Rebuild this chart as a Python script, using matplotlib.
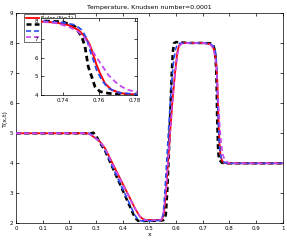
import matplotlib
matplotlib.use("Agg")
import matplotlib.pyplot as plt

# Data
x_red = [0, 0.265, 0.275, 0.29, 0.315, 0.334, 0.3525, 0.3775, 0.4025, 0.4275, 0.446, 0.465, 0.478, 0.49, 0.54, 0.548,
         0.555, 0.5625, 0.571, 0.58, 0.586, 0.596, 0.605, 0.612, 0.622, 0.64, 0.70, 0.722, 0.728, 0.736, 0.743,
         0.7486, 0.7523, 0.755, 0.7569, 0.7587, 0.7606, 0.7633, 0.767, 0.7725, 0.78, 0.79, 1.0]
y_red = [5, 5, 4.98, 4.89, 4.72, 4.5, 4.17, 3.72, 3.28, 2.83, 2.5, 2.22, 2.13, 2.11, 2.11, 2.13,
         2.35, 3.05, 4.17, 5.28, 6.0, 6.99, 7.7, 7.94, 8.0, 8.01, 8.01, 7.99, 7.96, 7.91, 7.78,
         7.51, 7.15, 6.70, 6.16, 5.62, 5.17, 4.63, 4.27, 4.09, 4.02, 4.0, 4.0]

x_black = [0, 0.28, 0.29, 0.30, 0.315, 0.334, 0.3525, 0.3775, 0.4025, 0.4275, 0.445, 0.458, 0.50, 0.552,
           0.557, 0.562, 0.568, 0.574, 0.579, 0.584, 0.588, 0.592, 0.60, 0.65, 0.70, 0.728, 0.74, 0.7468,
           0.7505, 0.7523, 0.7532, 0.7541, 0.756, 0.7578, 0.7606, 0.7652, 0.772, 0.78, 1.0]
y_black = [5, 5, 5.02, 4.92, 4.68, 4.42, 4.05, 3.55, 3.05, 2.55, 2.2, 2.08, 2.08, 2.1,
           2.15, 2.3, 3.2, 4.5, 5.8, 7.0, 7.7, 8.0, 8.04, 8.01, 8.01, 8.0, 7.95, 7.69,
           7.15, 6.61, 6.07, 5.53, 4.99, 4.45, 4.18, 4.09, 4.02, 4.0, 4.0]

x_blue = [0, 0.275, 0.29, 0.315, 0.334, 0.3525, 0.3775, 0.4025, 0.4275, 0.445, 0.458, 0.47, 0.50, 0.545,
          0.552, 0.558, 0.566, 0.574, 0.582, 0.59, 0.598, 0.606, 0.615, 0.65, 0.70, 0.728, 0.74, 0.7468,
          0.7505, 0.7532, 0.755, 0.7569, 0.7587, 0.7615, 0.7652, 0.7707, 0.78, 0.79, 1.0]
y_blue = [5, 5, 4.92, 4.7, 4.45, 4.08, 3.58, 3.1, 2.62, 2.28, 2.12, 2.08, 2.08, 2.1,
          2.3, 3.0, 4.2, 5.4, 6.5, 7.3, 7.8, 7.97, 8.0, 8.01, 8.01, 7.99, 7.9, 7.78,
          7.51, 7.06, 6.43, 5.89, 5.35, 4.81, 4.36, 4.13, 4.04, 4.0, 4.0]

x_mag = [0, 0.268, 0.29, 0.315, 0.334, 0.3525, 0.3775, 0.4025, 0.4275, 0.446, 0.465, 0.484, 0.50, 0.545,
         0.552, 0.5625, 0.571, 0.58, 0.586, 0.596, 0.606, 0.614, 0.624, 0.70, 0.728, 0.736, 0.7431,
         0.7486, 0.7523, 0.755, 0.7578, 0.7615, 0.7652, 0.7689, 0.7725, 0.7762, 0.78, 0.79, 0.80, 1.0]
y_mag = [5, 5, 4.9, 4.72, 4.49, 4.15, 3.7, 3.26, 2.82, 2.5, 2.22, 2.11, 2.1, 2.12,
         2.3, 3.05, 4.17, 5.28, 6.0, 6.99, 7.65, 7.93, 8.0, 8.0, 7.96, 7.88, 7.69,
         7.42, 7.06, 6.61, 6.16, 5.62, 5.08, 4.72, 4.45, 4.27, 4.18, 4.06, 4.0, 4.0]

labels = ["Euler (N=1)", "N=2", "N=3", "N=2"]
x_ticks = [0, 0.1, 0.2, 0.3, 0.4, 0.5, 0.6, 0.7, 0.8, 0.9, 1]
x_ticklabels = ["0", "0.1", "0.2", "0.3", "0.4", "0.5", "0.6", "0.7", "0.8", "0.9", "1"]
y_ticks = [2, 3, 4, 5, 6, 7, 8, 9]
inset_xticks = [0.74, 0.76, 0.78]
inset_yticks = [4, 5, 6, 7, 8]

RED, BLACK, BLUE, MAG = "#ff0000", "#000000", "#2a4cf5", "#c64cf0"

fig = plt.figure(figsize=(2.87, 2.41), dpi=100)
ax = fig.add_axes([0.0557, 0.0734, 0.9293, 0.8716])


def draw(a, lw_scale=1.0):
    a.plot(x_red, y_red, color=RED, lw=1.3 * lw_scale, label=labels[0], zorder=4)
    a.plot(x_black, y_black, color=BLACK, lw=1.8 * lw_scale, ls=(0, (2.0, 1.3)), label=labels[1], zorder=3)
    a.plot(x_blue, y_blue, color=BLUE, lw=1.2 * lw_scale, ls=(0, (3.0, 1.8)), label=labels[2], zorder=5)
    a.plot(x_mag, y_mag, color=MAG, lw=1.2 * lw_scale, ls=(0, (3.0, 1.8)), label=labels[3], zorder=6)


draw(ax)
ax.set_xlim(0, 1)
ax.set_ylim(2, 9)
ax.set_xticks(x_ticks)
ax.set_xticklabels(x_ticklabels)
ax.set_yticks(y_ticks)
ax.tick_params(direction="in", length=2.5, width=0.5, labelsize=4, top=True, right=True, pad=2)
for s in ax.spines.values():
    s.set_linewidth(0.5)
ax.set_title("Temperature, Knudsen number=0.0001", fontsize=4.5, pad=3)
ax.set_xlabel("x", fontsize=4.5, labelpad=1)
ax.set_ylabel("T(x,t)", fontsize=4.5, labelpad=1)
leg = ax.legend(loc="upper left", bbox_to_anchor=(0.03, 0.995), fontsize=4, frameon=True,
                fancybox=False, edgecolor="black", handlelength=2.4, borderpad=0.3,
                labelspacing=0.25, handletextpad=0.4, borderaxespad=0)
leg.get_frame().set_linewidth(0.5)

axin = fig.add_axes([0.143, 0.606, 0.334, 0.319])
draw(axin, 1.1)
axin.set_xlim(0.728, 0.781)
axin.set_ylim(4, 8.15)
axin.set_xticks(inset_xticks)
axin.set_xticklabels(["0.74", "0.76", "0.78"])
axin.set_yticks(inset_yticks)
axin.tick_params(direction="in", length=2, width=0.5, labelsize=4, top=True, right=True, pad=2)
for s in axin.spines.values():
    s.set_linewidth(0.5)
axin.set_zorder(10)

fig.savefig("out.png", dpi=100)
